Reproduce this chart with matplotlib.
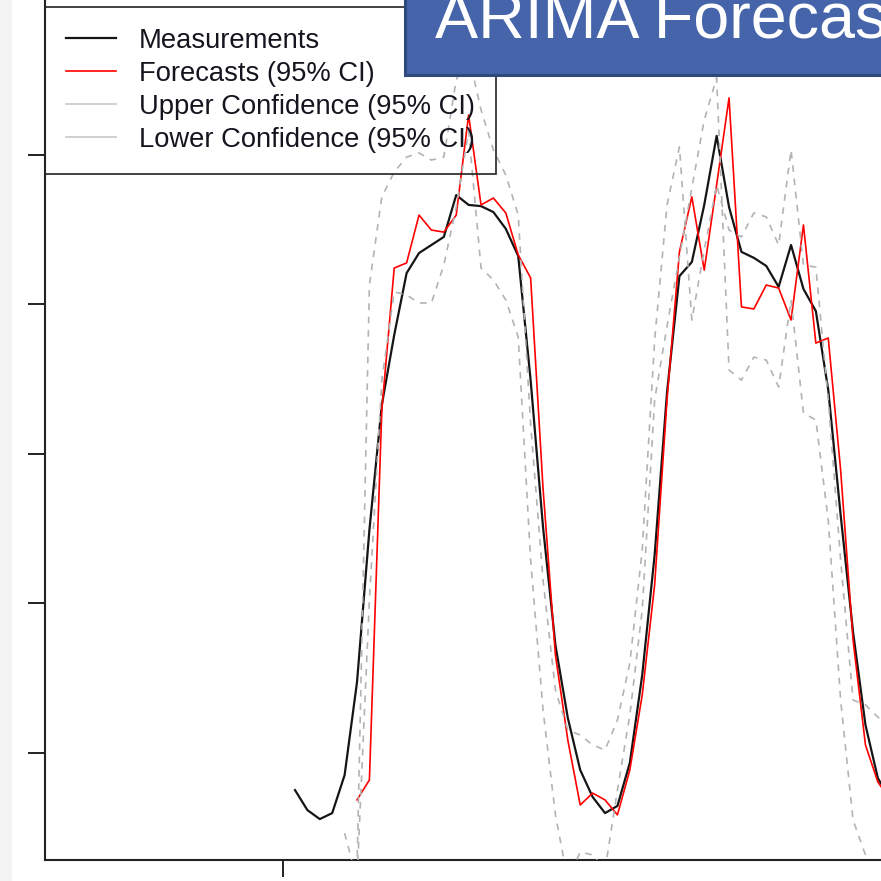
import numpy as np
import matplotlib
matplotlib.use("Agg")
import matplotlib.pyplot as plt
from matplotlib.patches import Rectangle
from matplotlib.lines import Line2D

plt.rcParams['font.family'] = ['Liberation Sans', 'DejaVu Sans']

# ---- data ----
meas_start = 1
measurements = [8.76, 8.09, 7.79, 7.99, 9.26, 12.37, 17.46, 21.64, 23.98, 26.05,
                26.72, 26.99, 27.26, 28.66, 28.33, 28.29, 28.09, 27.53, 26.62, 22.47,
                17.56, 13.61, 11.17, 9.43, 8.53, 7.99, 8.23, 9.67, 12.61, 16.62,
                22.07, 25.95, 26.42, 28.33, 30.64, 28.26, 26.76, 26.56, 26.29, 25.59,
                26.99, 25.52, 24.78, 22.14, 17.96, 14.05, 10.94, 9.16, 8.45]

fc_start = 6
forecasts = [8.43, 9.10, 21.47, 26.22, 26.39, 27.99, 27.49, 27.42, 27.99, 31.34,
             28.33, 28.56, 28.06, 26.66, 25.89, 18.86, 13.28, 10.43, 8.26, 8.66,
             8.43, 7.93, 9.43, 11.94, 15.62, 21.81, 26.76, 28.60, 26.15, 29.00,
             31.91, 24.92, 24.85, 25.65, 25.55, 24.48, 27.66, 23.71, 23.88, 19.46,
             13.78, 10.27, 9.03, 8.43]

up_start = 6
upper = [6.09, 25.65, 28.60, 29.43, 29.93, 30.07, 29.83, 29.93, 32.51, 33.34,
         31.51, 30.17, 29.33, 27.99, 21.00, 15.79, 12.11, 10.77, 10.60, 10.27,
         10.10, 11.10, 13.01, 16.79, 23.81, 28.33, 30.27, 24.48, 26.82, 29.00,
         27.49, 27.26, 28.06, 27.93, 26.99, 30.17, 26.32, 26.25, 21.81, 16.45,
         11.77, 11.61, 11.20, 10.94]

lo_start = 5
lower = [7.32, 5.75, 15.12, 22.47, 25.42, 25.32, 25.05, 25.05, 26.32, 28.26,
         30.80, 26.22, 25.82, 25.15, 23.91, 16.45, 11.44, 7.93, 5.75, 6.69,
         6.59, 6.09, 8.76, 11.27, 14.78, 21.81, 24.28, 26.59, 28.90, 31.17,
         32.58, 22.81, 22.47, 23.24, 23.14, 22.24, 25.15, 21.37, 21.14, 17.79,
         11.77, 7.76, 6.59, 5.75, 5.08]

y_ticks = [10, 15, 20, 25, 30]
x_ticks = [0]
legend_labels = ["Measurements", "Forecasts (95% CI)",
                 "Upper Confidence (95% CI)", "Lower Confidence (95% CI)"]
title_text = "ARIMA Forecast"

# ---- figure ----
W = H = 881
fig = plt.figure(figsize=(W / 100, H / 100), dpi=100)
fig.patch.set_facecolor("white")

ax = fig.add_axes([45 / W, (H - 860) / H, (1000 - 45) / W, (860 + 100) / H])
ax.set_facecolor("none")

t_meas = np.arange(len(measurements)) + meas_start
t_fc = np.arange(len(forecasts)) + fc_start
t_up = np.arange(len(upper)) + up_start
t_lo = np.arange(len(lower)) + lo_start

dash_col = "#b3b3b3"
ax.plot(t_meas, measurements, color="#151515", lw=1.6, zorder=3)
ax.plot(t_fc, forecasts, color="#ff0000", lw=1.2, zorder=4)
ax.plot(t_up, upper, color=dash_col, lw=1.2, dashes=(4, 4), zorder=5)
ax.plot(t_lo, lower, color=dash_col, lw=1.2, dashes=(4, 4), zorder=5)

ax.set_xlim(-19.16, 57.85)
ax.set_ylim(6.4214, 38.528)
ax.set_yticks(y_ticks)
ax.set_yticklabels([""] * len(y_ticks))
ax.set_xticks(x_ticks)
ax.set_xticklabels([""] * len(x_ticks))
ax.tick_params(direction="out", length=12.2, width=1.4, color="#222222")
for s in ("top", "right"):
    ax.spines[s].set_visible(False)
for s in ("left", "bottom"):
    ax.spines[s].set_linewidth(1.5)
    ax.spines[s].set_color("#222222")

handles = [Line2D([], [], color="#151515", lw=1.6),
           Line2D([], [], color="#ff0000", lw=1.2),
           Line2D([], [], color="#c8c8c8", lw=1.2),
           Line2D([], [], color="#c8c8c8", lw=1.2)]
leg = ax.legend(handles, legend_labels, loc="upper left",
                bbox_to_anchor=(45 / W, (H - 7) / H), bbox_transform=fig.transFigure,
                borderaxespad=0, fontsize=19.7, handlelength=1.82, handletextpad=0.85,
                borderpad=0.77, labelspacing=0.255, fancybox=False,
                facecolor="none", edgecolor="#222222", framealpha=1)
leg.get_frame().set_linewidth(1.2)
for txt in leg.get_texts():
    txt.set_color("#15151f")

# title box
fig.add_artist(Rectangle((405 / W, (H - 75) / H), (W - 405 + 20) / W, 100 / H,
                         transform=fig.transFigure, facecolor="#4664aa",
                         edgecolor="#30497c", lw=2.2, zorder=10))
fig.text(435 / W, (H - 38) / H, title_text, color="white", fontsize=46.5,
         va="baseline", ha="left", zorder=11)

# faint left shadow strip of the screenshot
fig.add_artist(Rectangle((0, 0), 12 / W, 1, transform=fig.transFigure,
                         facecolor="#f3f3f3", edgecolor="none", zorder=0.5))

fig.savefig("out.png", dpi=100)
